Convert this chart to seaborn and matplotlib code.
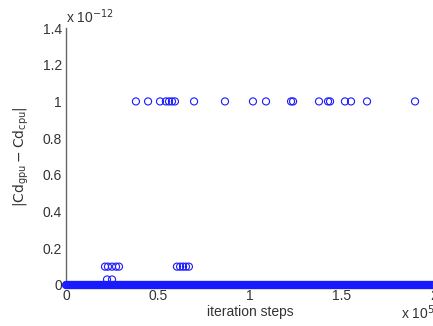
import numpy as np
import pandas as pd
import matplotlib
matplotlib.use("Agg")
import matplotlib.pyplot as plt
import seaborn as sns

# ---- data (x in iteration steps, y in absolute difference) ----
# iterations where the difference is exactly zero (dense band)
zero_steps = np.arange(0, 200001, 400)
zero_vals = np.zeros(len(zero_steps))

# iterations with difference 1e-12
high_steps = [38000, 44600, 51100, 54300, 56000, 57600, 59200, 69600, 86400,
              101600, 108700, 122300, 123400, 137500, 142400, 143500, 151600,
              154900, 163600, 189700]
high_vals = [1.0e-12] * len(high_steps)

# iterations with difference 1e-13
mid_steps = [21200, 22800, 25000, 27200, 28800, 60300, 62000, 63600, 65200, 66800]
mid_vals = [0.1e-12] * len(mid_steps)

# iterations with a small difference
low_steps = [22300, 25000]
low_vals = [0.03e-12, 0.03e-12]

x_ticks = [0, 50000, 100000, 150000, 200000]
x_ticklabels = ["0", "0.5", "1", "1.5", "2"]
y_ticks = [0, 0.2e-12, 0.4e-12, 0.6e-12, 0.8e-12, 1.0e-12, 1.2e-12, 1.4e-12]
y_ticklabels = ["0", "0.2", "0.4", "0.6", "0.8", "1", "1.2", "1.4"]

df = pd.DataFrame({
    "step": list(zero_steps) + high_steps + mid_steps + low_steps,
    "diff": list(zero_vals) + high_vals + mid_vals + low_vals,
})

sns.set_style("white")
plt.rcParams["font.family"] = ["Liberation Sans", "DejaVu Sans"]

fig = plt.figure(figsize=(4.33, 3.26), dpi=100)
ax = fig.add_axes([66 / 433, 41 / 326, 368 / 433, 257 / 326])

sns.scatterplot(data=df, x="step", y="diff", ax=ax, marker="o", s=26,
                facecolors="none", edgecolor="#1a1aff", linewidth=0.8,
                clip_on=False, zorder=3)

ax.set_xlim(0, 200000)
ax.set_ylim(0, 1.4e-12)
ax.set_xticks(x_ticks)
ax.set_xticklabels(x_ticklabels)
ax.set_yticks(y_ticks)
ax.set_yticklabels(y_ticklabels)

txt_col = "#333333"
ax.tick_params(direction="in", length=3, width=0.8, colors="#555555",
               labelcolor=txt_col, labelsize=10, pad=3)
for s in ["top", "right"]:
    ax.spines[s].set_visible(False)
ax.spines["left"].set_color("#666666")
ax.spines["left"].set_linewidth(1.0)
ax.spines["bottom"].set_color("#666666")

ax.set_xlabel("iteration steps", fontsize=10, color=txt_col, labelpad=1)
ax.set_ylabel(r"$|\mathrm{Cd}_{\mathrm{gpu}} - \mathrm{Cd}_{\mathrm{cpu}}|$",
              fontsize=10, color=txt_col, labelpad=8)

fig.text(66 / 433, 1 - 26 / 326, r"x 10$^{-12}$", fontsize=10, color=txt_col,
         ha="left", va="bottom")
fig.text(401 / 433, 4 / 326, r"x 10$^{5}$", fontsize=10, color=txt_col,
         ha="left", va="bottom")

fig.savefig("out.png", dpi=100)
